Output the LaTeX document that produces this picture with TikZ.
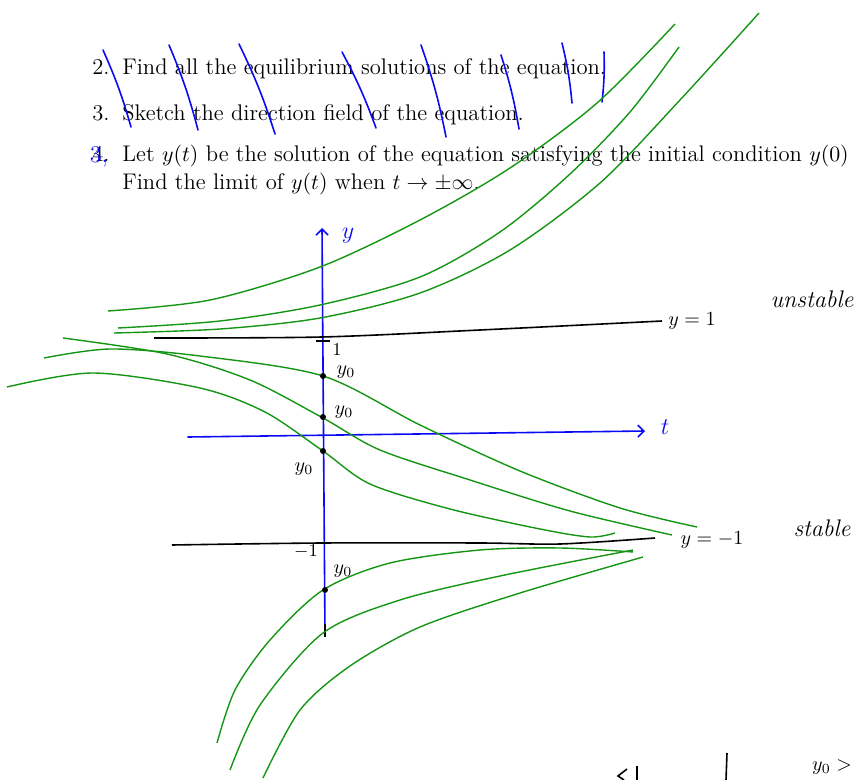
\documentclass[tikz,border=0pt]{standalone}
\usepackage{amsmath}
\usetikzlibrary{arrows.meta}
\definecolor{solgreen}{RGB}{20,150,20}
\definecolor{penblue}{RGB}{10,10,245}
\tikzset{
  prt/.style={anchor=base west,inner sep=0pt,font=\fontsize{11.3}{13.5}\selectfont},
  pen/.style={penblue,line width=0.8pt,line cap=round},
  sol/.style={solgreen,line width=0.7pt},
  eqline/.style={black,line width=0.8pt},
  hand/.style={inner sep=0pt},
  ydot/.style={fill=black}
}
\begin{document}
\begin{tikzpicture}[x=0.5pt,y=-0.5pt,>={Straight Barb[length=3pt,width=6pt]}]
  \useasboundingbox (0,0) rectangle (862,780);
  % printed problem text
  \node[prt] (n2) at (92,75) {2.};
  \node[prt] (q2) at (122,75) {Find all the equilibrium solutions of the equation.};
  \node[prt] (n3) at (92,121) {3.};
  \node[prt] (q3) at (122,121) {Sketch the direction field of the equation.};
  \node[prt] (n4) at (92,162) {4.};
  \node[prt] (q4) at (122,162) {Let $y(t)$ be the solution of the equation satisfying the initial condition $y(0)$};
  \node[prt] (q4b) at (122,190) {Find the limit of $y(t)$ when $t\to\pm\infty$.};
  \node[hand,penblue,font=\large] (re3) at (99,157) {3,};
  % direction field slashes
  \foreach \xa/\ya/\xb/\yb in {103/50/131/127,169/45/198/130,239/44/275/134,342/52/376/128,
      421/45/446/137,501/55/519/129,562/43/572/103,604/52/602/102}
    \draw[pen] (\xa,\ya) to[bend left=4] (\xb,\yb);
  % axes
  \coordinate (ybot) at (325,636);
  \coordinate (ytop) at (322,228);
  \coordinate (tl) at (188,437);
  \coordinate (tr) at (645,431);
  \draw[pen,->] (ybot) -- (ytop);
  \draw[pen,->] (tl) -- (tr);
  \node[hand,penblue,font=\large] (ylab) at (348,236) {$y$};
  \node[hand,penblue,font=\large] (tlab) at (665,427) {$t$};
  % equilibria
  \draw[eqline] plot[smooth] coordinates {(154,338) (322,337) (480,330) (662,321)};
  \draw[eqline] plot[smooth] coordinates {(172,545) (322,543) (480,543) (560,544) (655,538)};
  \draw[eqline] (316,341) -- (330,341);
  \draw[eqline] (325,624) -- (325,637);
  \node[hand] (one) at (337,350) {\small 1};
  \node[hand] (mone) at (306,552) {\small $-1$};
  \node[hand] (eq1) at (692,321) {$y=1$};
  \node[hand,font=\large\itshape] (unst) at (812,299) {unstable};
  \node[hand] (eq2) at (712,540) {$y=-1$};
  \node[hand,font=\large\itshape] (st) at (822,528) {stable};
  % solutions above y=1
  \draw[sol] plot[smooth] coordinates {(108,311) (210,300) (320,267) (420,220) (510,168) (597,103) (675,24)};
  \draw[sol] plot[smooth] coordinates {(118,328) (220,321) (320,305) (420,277) (500,232) (570,174) (630,112) (679,47)};
  \draw[sol] plot[smooth] coordinates {(114,333) (220,329) (320,318) (420,293) (510,250) (600,183) (680,100) (759,13)};
  % solutions between the equilibria
  \draw[sol] plot[smooth] coordinates {(63,338) (167,354) (250,380) (323,418) (380,450) (470,480) (570,511) (672,535)};
  \draw[sol] plot[smooth] coordinates {(44,358) (110,349) (200,356) (323,376) (420,425) (520,471) (620,508) (697,527)};
  \draw[sol] plot[smooth] coordinates {(7,387) (93,373) (200,388) (265,412) (323,451) (370,484) (450,509) (540,529) (590,537) (615,533)};
  % solutions below y=-1
  \draw[sol] plot[smooth] coordinates {(217,743) (235,690) (270,640) (323,590) (390,563) (480,550) (560,548) (633,552)};
  \draw[sol] plot[smooth] coordinates {(230,770) (260,705) (323,633) (400,600) (500,576) (633,550)};
  \draw[sol] plot[smooth] coordinates {(263,778) (300,710) (350,666) (420,627) (520,593) (643,557)};
  % initial values
  \coordinate (d1) at (323,376);
  \coordinate (d2) at (323,417);
  \coordinate (d3) at (323,451);
  \coordinate (d4) at (325,590);
  \foreach \d in {d1,d2,d3,d4}
    \fill[ydot] (\d) circle (3);
  \node[hand] (y1) at (346,372) {$y_0$};
  \node[hand] (y2) at (344,412) {$y_0$};
  \node[hand] (y3) at (304,469) {$y_0$};
  \node[hand] (y4) at (343,571) {$y_0$};
  % cut-off writing at the bottom
  \draw[eqline] (727,753) -- (726,780);
  \draw[eqline] (637,766) -- (637,780);
  \draw[eqline] (627,769) -- (618,776) -- (624,780);
  \node[hand,anchor=base] (ybelow) at (832,770) {$y_0>$};
\end{tikzpicture}
\end{document}
